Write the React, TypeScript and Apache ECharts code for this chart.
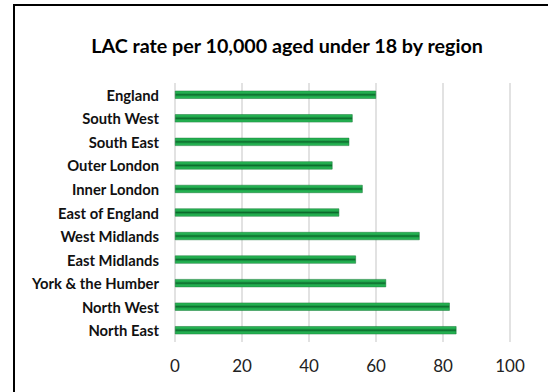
import React, { useEffect, useRef } from "react";
import * as echarts from "echarts";

const titleText = "LAC rate per 10,000 aged under 18 by region";
const categories = [
  "North East",
  "North West",
  "York & the Humber",
  "East Midlands",
  "West Midlands",
  "East of England",
  "Inner London",
  "Outer London",
  "South East",
  "South West",
  "England",
];
const values = [84, 82, 63, 54, 73, 49, 56, 47, 52, 53, 60];
const axisMin = 0;
const axisMax = 100;
const axisInterval = 20;

export default function App() {
  const ref = useRef<HTMLDivElement>(null);
  useEffect(() => {
    document.body.style.margin = "0";
    const chart = echarts.init(ref.current!, null, { renderer: "svg" });
    const font = "Lato, 'Liberation Sans', Arial, sans-serif";
    chart.setOption({
      animation: false,
      backgroundColor: "#ffffff",
      title: {
        text: titleText,
        left: 282,
        top: 30,
        textAlign: "center",
        textStyle: { fontFamily: font, fontWeight: "bold", fontSize: 19.7, color: "#000" },
      },
      graphic: [
        {
          type: "rect",
          shape: { x: 14, y: 5, width: 600, height: 500 },
          style: { fill: "none", stroke: "#000", lineWidth: 2 },
          silent: true,
        },
      ],
      grid: { left: 175, right: 38, top: 83, bottom: 50, containLabel: false },
      xAxis: {
        type: "value",
        min: axisMin,
        max: axisMax,
        interval: axisInterval,
        axisLine: { show: false },
        axisTick: { show: false },
        axisLabel: { fontFamily: font, fontSize: 17, color: "#222", margin: 15 },
        splitLine: { lineStyle: { color: "#d9d9d9", width: 1.5 } },
      },
      yAxis: {
        type: "category",
        data: categories,
        axisLine: { show: false },
        axisTick: { show: false },
        axisLabel: { fontFamily: font, fontSize: 14.8, fontWeight: "bold", color: "#111", margin: 16 },
      },
      series: [
        {
          type: "bar",
          data: values,
          barWidth: 8,
          itemStyle: {
            color: new echarts.graphic.LinearGradient(0, 0, 0, 1, [
              { offset: 0, color: "#2cc05a" },
              { offset: 0.3, color: "#1fa64b" },
              { offset: 0.5, color: "#0c6a2c" },
              { offset: 0.7, color: "#1fa64b" },
              { offset: 1, color: "#2cc05a" },
            ]),
            borderColor: "#0e6e2e",
            borderWidth: 0.5,
          },
        },
      ],
    });
    return () => chart.dispose();
  }, []);
  return <div ref={ref} style={{ width: 548, height: 392 }} />;
}
